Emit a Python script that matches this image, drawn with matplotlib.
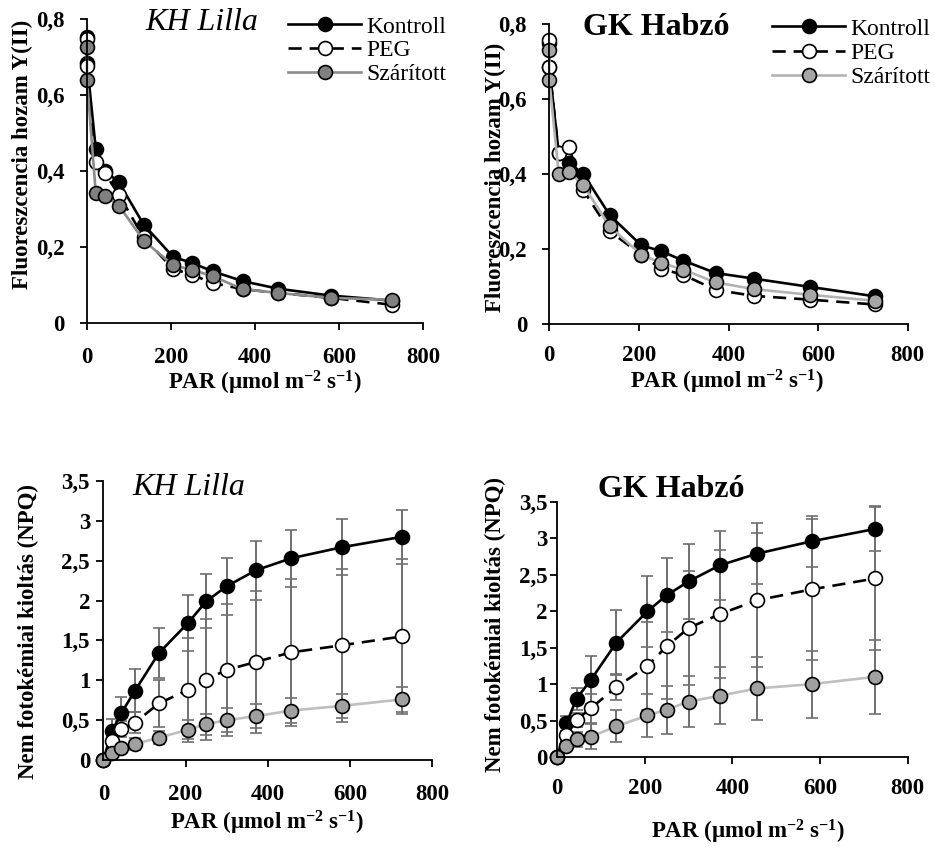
import numpy as np
import matplotlib
matplotlib.use('Agg')
import matplotlib.pyplot as plt
from matplotlib.ticker import FuncFormatter

plt.rcParams['font.family'] = 'Liberation Serif'
plt.rcParams['mathtext.fontset'] = 'custom'
plt.rcParams['mathtext.rm'] = 'Liberation Serif:bold'
plt.rcParams['mathtext.default'] = 'rm'

# PAR értékek
PAR_Y = [0, 0, 21, 43, 76, 135, 205, 250, 299, 371, 456, 581, 726]
PAR_NPQ = [0, 21, 44, 77, 135, 206, 250, 300, 371, 456, 581, 726]

# Y(II) - KH Lilla
Lilla_Y_Kontroll = [0.752, 0.685, 0.458, 0.40, 0.37, 0.259, 0.174, 0.158, 0.136, 0.11, 0.09, 0.072, 0.059]
Lilla_Y_PEG = [0.748, 0.675, 0.423, 0.394, 0.337, 0.225, 0.142, 0.127, 0.105, 0.089, 0.079, 0.066, 0.048]
Lilla_Y_Szaritott = [0.727, 0.64, 0.342, 0.335, 0.309, 0.217, 0.152, 0.14, 0.123, 0.089, 0.079, 0.066, 0.061]

# Y(II) - GK Habzó
Habzo_Y_Kontroll = [0.75, 0.685, 0.455, 0.43, 0.40, 0.29, 0.21, 0.194, 0.169, 0.136, 0.121, 0.099, 0.074]
Habzo_Y_PEG = [0.758, 0.686, 0.455, 0.473, 0.357, 0.247, 0.185, 0.147, 0.131, 0.091, 0.075, 0.065, 0.052]
Habzo_Y_Szaritott = [0.73, 0.651, 0.40, 0.406, 0.37, 0.26, 0.185, 0.163, 0.145, 0.111, 0.093, 0.078, 0.062]

# NPQ - KH Lilla
Lilla_NPQ_Kontroll = [0, 0.36, 0.59, 0.87, 1.34, 1.72, 1.99, 2.18, 2.38, 2.53, 2.67, 2.80]
Lilla_NPQ_Kontroll_err = [0, 0.15, 0.2, 0.27, 0.31, 0.35, 0.34, 0.36, 0.37, 0.36, 0.35, 0.34]
Lilla_NPQ_PEG = [0, 0.24, 0.385, 0.47, 0.71, 0.88, 1.01, 1.13, 1.23, 1.35, 1.44, 1.55]
Lilla_NPQ_PEG_err = [0, 0.05, 0.1, 0.13, 0.3, 0.65, 0.76, 0.83, 0.89, 0.92, 0.96, 0.97]
Lilla_NPQ_Szaritott = [0, 0.09, 0.15, 0.2, 0.28, 0.38, 0.45, 0.5, 0.55, 0.62, 0.68, 0.76]
Lilla_NPQ_Szaritott_err = [0, 0.03, 0.05, 0.08, 0.08, 0.12, 0.13, 0.15, 0.15, 0.16, 0.15, 0.16]

# NPQ - GK Habzó
Habzo_NPQ_Kontroll = [0, 0.46, 0.80, 1.06, 1.57, 2.0, 2.22, 2.41, 2.63, 2.79, 2.96, 3.13]
Habzo_NPQ_Kontroll_err = [0, 0.1, 0.15, 0.33, 0.45, 0.49, 0.51, 0.51, 0.47, 0.42, 0.35, 0.31]
Habzo_NPQ_PEG = [0, 0.3, 0.51, 0.67, 0.96, 1.25, 1.52, 1.77, 1.96, 2.15, 2.30, 2.45]
Habzo_NPQ_PEG_err = [0, 0.05, 0.1, 0.2, 0.18, 0.6, 0.72, 0.78, 0.88, 0.92, 0.97, 0.98]
Habzo_NPQ_Szaritott = [0, 0.15, 0.24, 0.28, 0.42, 0.57, 0.65, 0.76, 0.84, 0.94, 1.0, 1.1]
Habzo_NPQ_Szaritott_err = [0, 0.05, 0.1, 0.17, 0.22, 0.29, 0.33, 0.35, 0.39, 0.43, 0.46, 0.51]

labels = ['Kontroll', 'PEG', 'Szárított']
ms = 10
lw = 1.9
ebc = '#707070'
xlab = r'PAR (µmol m$^{-2}$ s$^{-1}$)'


def comma(v, p):
    return ('%g' % v).replace('.', ',')


def style_axes(ax, ymax, ystep, xpad, ypad):
    ax.set_xlim(0, 800)
    ax.set_ylim(0, ymax)
    ax.set_xticks(np.arange(0, 801, 200))
    ax.set_yticks(np.arange(0, ymax + 0.001, ystep))
    ax.yaxis.set_major_formatter(FuncFormatter(comma))
    for s in ['top', 'right']:
        ax.spines[s].set_visible(False)
    for s in ['left', 'bottom']:
        ax.spines[s].set_linewidth(1.3)
    ax.tick_params(direction='out', length=5, width=1.3, labelsize=16.5)
    ax.tick_params(axis='x', pad=xpad)
    ax.tick_params(axis='y', pad=ypad)
    for t in ax.get_xticklabels() + ax.get_yticklabels():
        t.set_fontweight('bold')


def labels_axes(ax, ylabel, xc, yc):
    ax.set_xlabel(xlab, fontsize=16.5, fontweight='bold', va='center')
    ax.xaxis.set_label_coords(*xc)
    ax.set_ylabel(ylabel, fontsize=16.5, fontweight='bold', va='center')
    ax.yaxis.set_label_coords(*yc)


fig = plt.figure(figsize=(9.35, 8.47), dpi=100)

# %% Y(II) - KH Lilla
ax1 = fig.add_axes([0.0930, 0.6187, 0.3594, 0.3589])
ax1.plot(PAR_Y, Lilla_Y_Kontroll, '-o', color='black', lw=lw, ms=ms, mfc='black', mec='black', mew=1.2, label=labels[0], clip_on=False)
ax1.plot(PAR_Y, Lilla_Y_PEG, '--o', color='black', lw=lw, ms=ms, mfc='white', mec='black', mew=1.2, dashes=(5, 3), label=labels[1], clip_on=False)
ax1.plot(PAR_Y, Lilla_Y_Szaritott, '-o', color='#8c8c8c', lw=lw, ms=ms, mfc='#808080', mec='black', mew=1.2, label=labels[2], clip_on=False)
style_axes(ax1, 0.8, 0.2, 12, 11)
labels_axes(ax1, 'Fluoreszcencia hozam Y(II)', (0.53, -0.197), (-0.193, 0.553))
ax1.text(0.342, 0.987, 'KH Lilla', transform=ax1.transAxes, fontsize=23, style='italic', ha='center', va='center')
ax1.legend(loc='upper left', bbox_to_anchor=(288 / 935, 1 - 16 / 847), bbox_transform=fig.transFigure,
           frameon=False, fontsize=17, handlelength=3.1, handletextpad=0.2, labelspacing=0.1,
           borderpad=0, borderaxespad=0)

# %% Y(II) - GK Habzó
ax2 = fig.add_axes([0.5875, 0.6175, 0.3833, 0.3542])
ax2.plot(PAR_Y, Habzo_Y_Kontroll, '-o', color='black', lw=lw, ms=ms, mfc='black', mec='black', mew=1.2, label=labels[0], clip_on=False)
ax2.plot(PAR_Y, Habzo_Y_PEG, '--o', color='black', lw=lw, ms=ms, mfc='white', mec='black', mew=1.2, dashes=(5, 3), label=labels[1], clip_on=False)
ax2.plot(PAR_Y, Habzo_Y_Szaritott, '-o', color='#b3b3b3', lw=lw, ms=ms, mfc='#a6a6a6', mec='black', mew=1.2, label=labels[2], clip_on=False)
style_axes(ax2, 0.8, 0.2, 10, 11)
labels_axes(ax2, 'Fluoreszcencia hozam Y(II)', (0.496, -0.193), (-0.151, 0.487))
ax2.text(0.297, 0.987, 'GK Habzó', transform=ax2.transAxes, fontsize=23, fontweight='bold', ha='center', va='center')
ax2.legend(loc='upper left', bbox_to_anchor=(772 / 935, 1 - 18 / 847), bbox_transform=fig.transFigure,
           frameon=False, fontsize=17, handlelength=3.1, handletextpad=0.2, labelspacing=0.12,
           borderpad=0, borderaxespad=0)

# %% NPQ - KH Lilla
ax3 = fig.add_axes([0.1105, 0.1027, 0.3519, 0.3294])
ax3.errorbar(PAR_NPQ, Lilla_NPQ_Kontroll, yerr=Lilla_NPQ_Kontroll_err, fmt='-o', color='black', lw=lw, ms=ms,
             mfc='black', mec='black', mew=1.2, ecolor=ebc, elinewidth=1.4, capsize=4.5, capthick=1.4, clip_on=False)
ax3.errorbar(PAR_NPQ, Lilla_NPQ_PEG, yerr=Lilla_NPQ_PEG_err, fmt='--o', color='black', lw=lw, ms=ms, dashes=(5, 3),
             mfc='white', mec='black', mew=1.2, ecolor=ebc, elinewidth=1.4, capsize=4.5, capthick=1.4, clip_on=False)
ax3.errorbar(PAR_NPQ, Lilla_NPQ_Szaritott, yerr=Lilla_NPQ_Szaritott_err, fmt='-o', color='#bfbfbf', lw=lw, ms=ms,
             mfc='#a0a0a0', mec='black', mew=1.2, ecolor=ebc, elinewidth=1.4, capsize=4.5, capthick=1.4, clip_on=False)
style_axes(ax3, 3.5, 0.5, 12, 4.5)
labels_axes(ax3, 'Nem fotokémiai kioltás (NPQ)', (0.497, -0.226), (-0.228, 0.462))
ax3.text(0.26, 0.975, 'KH Lilla', transform=ax3.transAxes, fontsize=23, style='italic', ha='center', va='center')

# %% NPQ - GK Habzó
ax4 = fig.add_axes([0.5960, 0.1063, 0.3748, 0.3011])
ax4.errorbar(PAR_NPQ, Habzo_NPQ_Kontroll, yerr=Habzo_NPQ_Kontroll_err, fmt='-o', color='black', lw=lw, ms=ms,
             mfc='black', mec='black', mew=1.2, ecolor=ebc, elinewidth=1.4, capsize=4.5, capthick=1.4, clip_on=False)
ax4.errorbar(PAR_NPQ, Habzo_NPQ_PEG, yerr=Habzo_NPQ_PEG_err, fmt='--o', color='black', lw=lw, ms=ms, dashes=(5, 3),
             mfc='white', mec='black', mew=1.2, ecolor=ebc, elinewidth=1.4, capsize=4.5, capthick=1.4, clip_on=False)
ax4.errorbar(PAR_NPQ, Habzo_NPQ_Szaritott, yerr=Habzo_NPQ_Szaritott_err, fmt='-o', color='#bfbfbf', lw=lw, ms=ms,
             mfc='#a0a0a0', mec='black', mew=1.2, ecolor=ebc, elinewidth=1.4, capsize=4.5, capthick=1.4, clip_on=False)
style_axes(ax4, 3.5, 0.5, 10, 2)
labels_axes(ax4, 'Nem fotokémiai kioltás (NPQ)', (0.544, -0.295), (-0.177, 0.518))
ax4.text(0.325, 1.047, 'GK Habzó', transform=ax4.transAxes, fontsize=23, fontweight='bold', ha='center', va='center')

fig.savefig('out.png', dpi=100)
